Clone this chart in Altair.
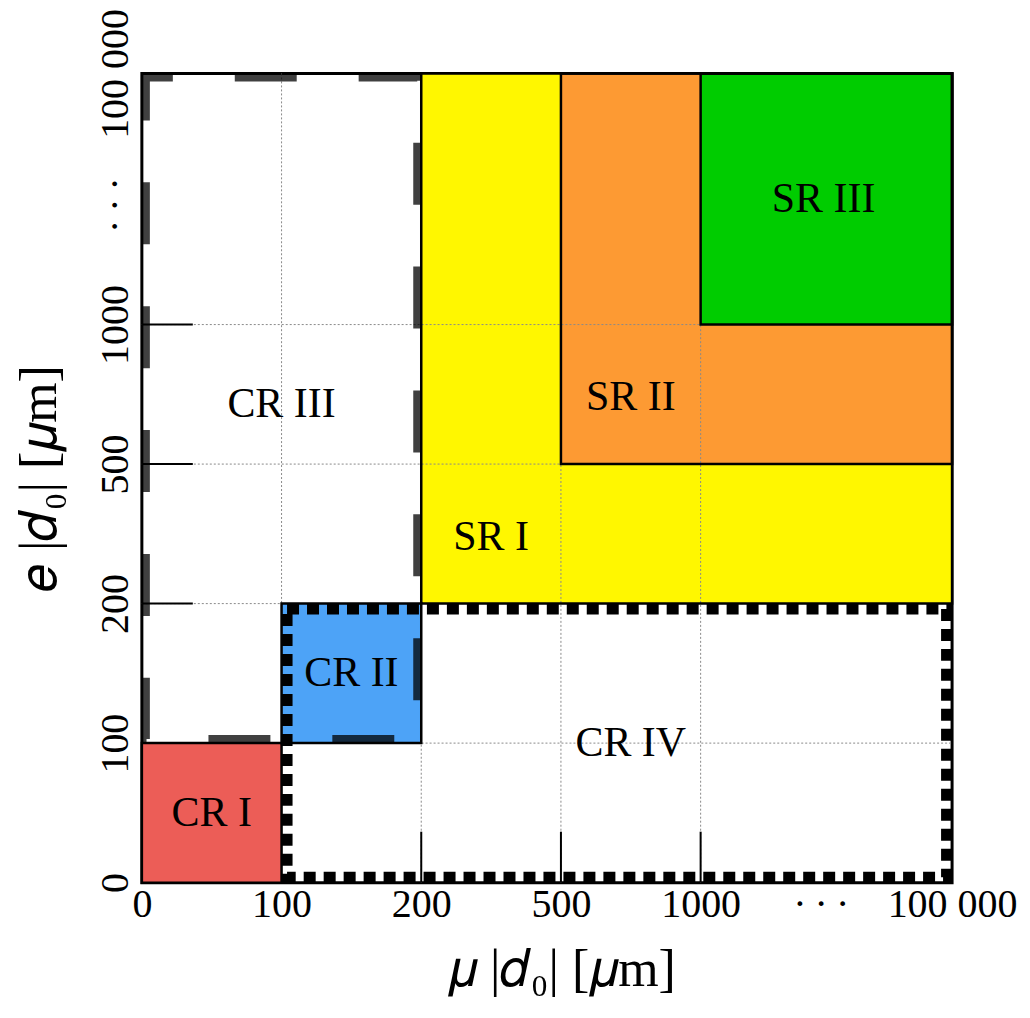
import altair as alt
import pandas as pd

# axis positions on an index scale, and their labels
tick_pos = [0, 1, 2, 3, 4, 4.86, 5.8]
tick_labels = ["0", "100", "200", "500", "1000", "·\u2009·\u2009·", "100 000"]
grid_pos = [1, 2, 3, 4]
inner_tick_pos = [2, 3, 4]
domain_max = 5.8

# filled regions
fill_names = ["SR I", "SR II", "SR III", "CR I", "CR II"]
fill_x0 = [2, 3, 4, 0, 1]
fill_x1 = [5.8, 5.8, 5.8, 1, 2]
fill_y0 = [2, 3, 4, 0, 1]
fill_y1 = [5.8, 5.8, 5.8, 1, 2]
fill_colors = ["#FFF700", "#FD9A33", "#00CC00", "#EC5D57", "#4DA3F7"]

# outlined control regions
cr3_x = [0, 2]
cr3_y = [1, 5.8]
cr4_x = [1, 5.8]
cr4_y = [0, 2]

# region labels
label_text = ["CR I", "CR II", "CR III", "CR IV", "SR I", "SR II", "SR III"]
label_x = [0.5, 1.5, 1.0, 3.5, 2.5, 3.5, 4.88]
label_y = [0.5, 1.5, 3.43, 1.0, 2.48, 3.48, 4.9]

x_title = "\U0001D707 |\U0001D451\u2080| [\U0001D707m]"
y_title = "\U0001D452 |\U0001D451\u2080| [\U0001D707m]"

FONT = "Liberation Serif"
W, H = 811, 810

fills = pd.DataFrame({"name": fill_names, "x0": fill_x0, "x1": fill_x1,
                      "y0": fill_y0, "y1": fill_y1, "color": fill_colors})
grid = pd.DataFrame({"pos": grid_pos})
ticks = pd.DataFrame({"pos": inner_tick_pos})
cr3 = pd.DataFrame({"x0": [cr3_x[0]], "x1": [cr3_x[1]], "y0": [cr3_y[0]], "y1": [cr3_y[1]]})
cr4 = pd.DataFrame({"x0": [cr4_x[0]], "x1": [cr4_x[1]], "y0": [cr4_y[0]], "y1": [cr4_y[1]]})
labels = pd.DataFrame({"text": label_text, "x": label_x, "y": label_y})

label_expr = " : ".join(
    f"abs(datum.value - {p}) < 0.01 ? '{l}'" for p, l in zip(tick_pos, tick_labels)
) + " : ''"

xs = alt.Scale(domain=[0, domain_max], nice=False, zero=False)
ys = alt.Scale(domain=[0, domain_max], nice=False, zero=False)

x_axis = alt.Axis(values=tick_pos, labelExpr=label_expr, grid=False, ticks=False,
                  tickSize=0, domain=False, labelFont=FONT, labelFontSize=40,
                  labelColor="black", labelFlush=False, labelOverlap=False,
                  labelAlign="center", labelBaseline="alphabetic", labelPadding=34,
                  title=x_title, titleFont=FONT, titleFontSize=52,
                  titleFontWeight="normal", titleColor="black",
                  titleX=420, titleY=103, titleAlign="center",
                  titleBaseline="alphabetic")
y_axis = alt.Axis(values=tick_pos, labelExpr=label_expr, grid=False, ticks=False,
                  tickSize=0, domain=False, labelFont=FONT, labelFontSize=40,
                  labelColor="black", labelFlush=False, labelOverlap=False,
                  labelAngle=270, labelAlign="center", labelBaseline="alphabetic",
                  labelPadding=14,
                  title=y_title, titleFont=FONT, titleFontSize=52,
                  titleFontWeight="normal", titleColor="black",
                  titleAngle=270, titleX=-102, titleY=H / 2, titleAlign="center",
                  titleBaseline="middle")


def X(field):
    return alt.X(field, scale=xs, axis=x_axis)


def Y(field):
    return alt.Y(field, scale=ys, axis=y_axis)


fill_layer = alt.Chart(fills).mark_rect(strokeWidth=0).encode(
    x=X("x0:Q"), x2="x1:Q", y=Y("y1:Q"), y2="y0:Q",
    color=alt.Color("color:N", scale=None),
)

grid_v = alt.Chart(grid).mark_rule(color="#8a8a8a", strokeWidth=1, strokeDash=[2, 2]).encode(
    x=X("pos:Q"), y=alt.value(0), y2=alt.value(H))
grid_h = alt.Chart(grid).mark_rule(color="#8a8a8a", strokeWidth=1, strokeDash=[2, 2]).encode(
    y=Y("pos:Q"), x=alt.value(0), x2=alt.value(W))

border_layer = alt.Chart(fills).mark_rect(fillOpacity=0, stroke="black", strokeWidth=2.5).encode(
    x=X("x0:Q"), x2="x1:Q", y=Y("y1:Q"), y2="y0:Q",
)

tick_h = alt.Chart(ticks).mark_rule(color="black", strokeWidth=2).encode(
    y=Y("pos:Q"), x=alt.value(0), x2=alt.value(51))
tick_v = alt.Chart(ticks).mark_rule(color="black", strokeWidth=2).encode(
    x=X("pos:Q"), y=alt.value(H), y2=alt.value(H - 51))

cr3_layer = alt.Chart(cr3).mark_rect(
    fillOpacity=0, stroke="black", strokeOpacity=0.75, strokeWidth=8,
    strokeDash=[62, 62], strokeDashOffset=35,
    xOffset=4, x2Offset=-4, yOffset=4, y2Offset=-4,
).encode(
    x=X("x0:Q"), x2="x1:Q", y=Y("y1:Q"), y2="y0:Q",
)

cr4_layer = alt.Chart(cr4).mark_rect(
    fillOpacity=0, stroke="black", strokeWidth=11, strokeDash=[12, 8],
    xOffset=5.5, x2Offset=-5.5, yOffset=5.5, y2Offset=-5.5,
).encode(
    x=X("x0:Q"), x2="x1:Q", y=Y("y1:Q"), y2="y0:Q",
)

text_layer = alt.Chart(labels).mark_text(
    font=FONT, fontSize=42, color="black", align="center", baseline="middle"
).encode(
    x=X("x:Q"), y=Y("y:Q"), text="text:N",
)

chart = alt.layer(
    fill_layer, grid_v, grid_h, border_layer, tick_h, tick_v,
    cr3_layer, cr4_layer, text_layer,
).properties(
    width=W, height=H,
    background="white",
    autosize=alt.AutoSizeParams(type="none"),
    padding={"left": 134, "top": 65, "right": 70, "bottom": 130},
).configure_view(
    stroke="black", strokeWidth=3
)

chart.save("out.html", embed_options={"renderer": "svg", "actions": False})
